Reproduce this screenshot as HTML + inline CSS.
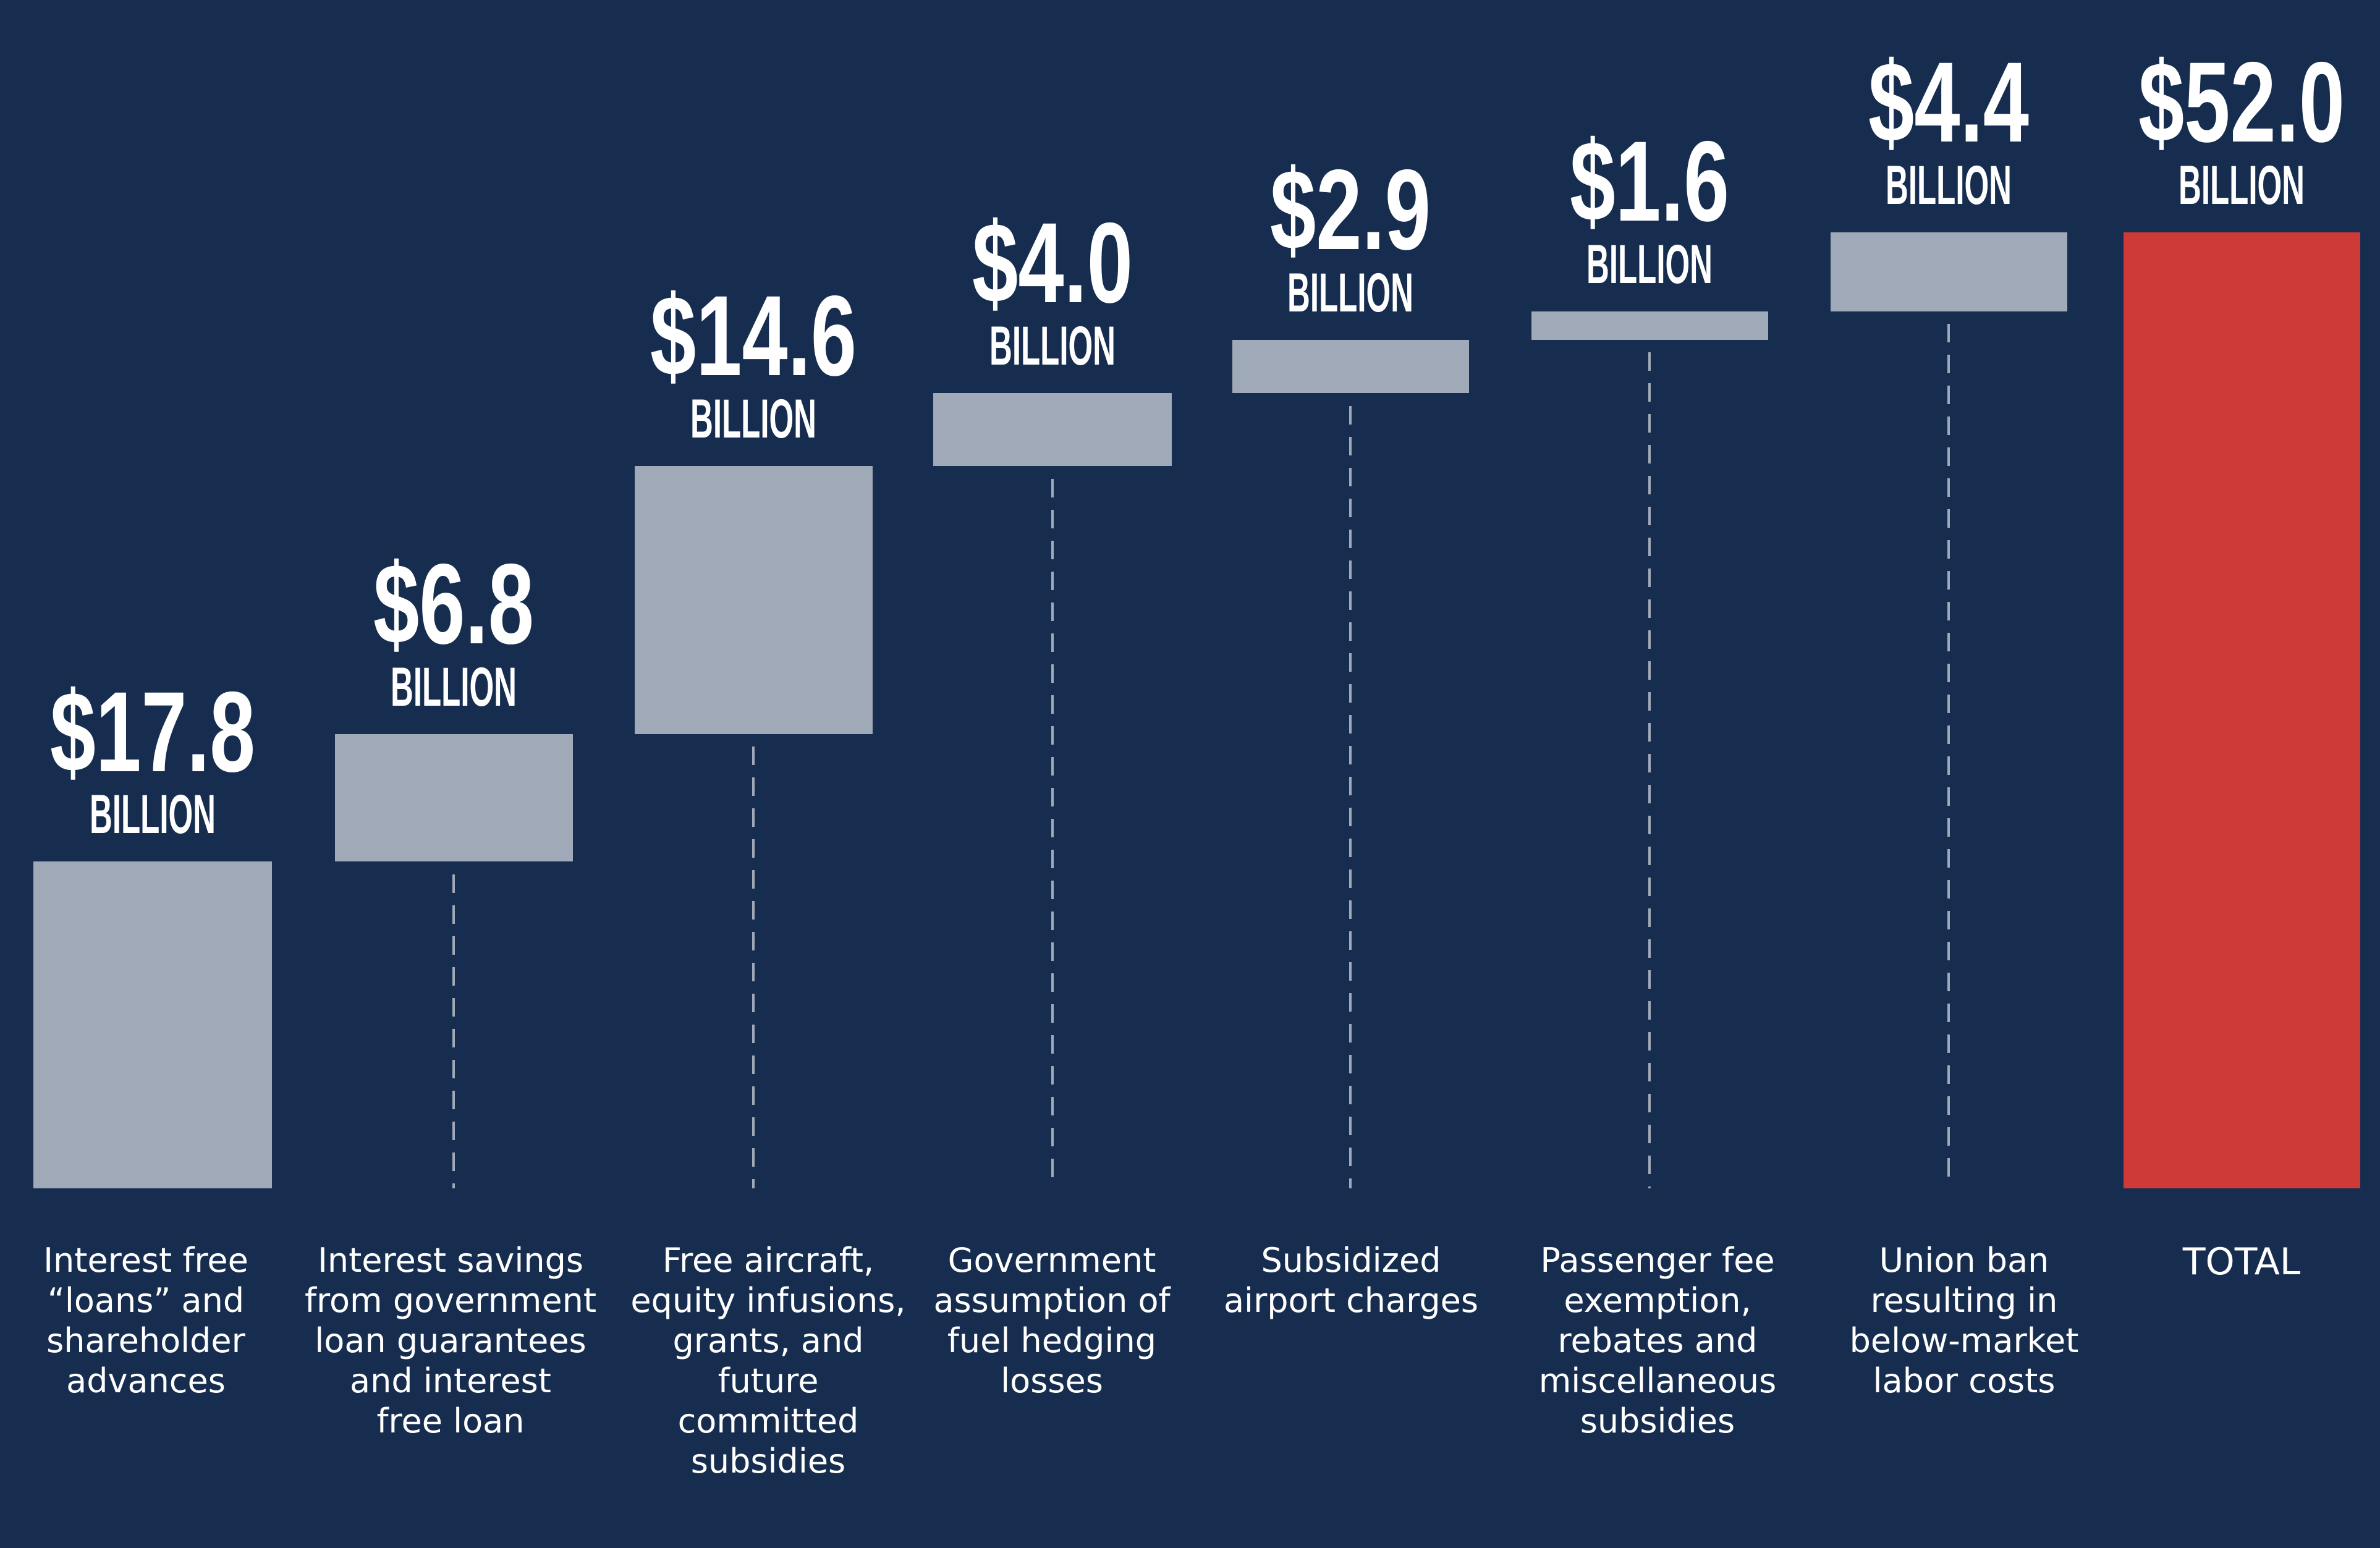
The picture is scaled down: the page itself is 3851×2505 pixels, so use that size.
<!DOCTYPE html>
<html><head><meta charset="utf-8"><style>
html,body{margin:0;padding:0;background:#172d4f;}
svg{display:block}
.v{font-family:"Liberation Sans Narrow","Liberation Sans",sans-serif;font-weight:bold;fill:#fff;text-anchor:middle}
.c{font-family:"DejaVu Sans","Liberation Sans",sans-serif;fill:#fff;font-size:54px;text-anchor:middle}
</style></head><body>
<svg width="3851" height="2505" viewBox="0 0 3851 2505" xmlns="http://www.w3.org/2000/svg">
<rect width="3851" height="2505" fill="#172d4f"/>
<g fill="#a0a9b7">
<rect x="54" y="1394" width="386" height="529"/>
<rect x="542" y="1188" width="385" height="206"/>
<rect x="1027" y="754" width="385" height="434"/>
<rect x="1510" y="636" width="386" height="118"/>
<rect x="1994" y="550" width="383" height="86"/>
<rect x="2478" y="504" width="383" height="46"/>
<rect x="2962" y="376" width="383" height="128"/>
</g>
<rect x="3436" y="376" width="383" height="1547" fill="#cd3a37"/>
<g stroke="#a0a9b7" stroke-width="4" stroke-dasharray="30,20">
<line x1="734" y1="1415" x2="734" y2="1923"/>
<line x1="1219" y1="1208" x2="1219" y2="1923"/>
<line x1="1703" y1="775" x2="1703" y2="1923"/>
<line x1="2185" y1="657" x2="2185" y2="1923"/>
<line x1="2669" y1="570" x2="2669" y2="1923"/>
<line x1="3153" y1="524" x2="3153" y2="1923"/>
</g>
<g class="v">
<text x="247" y="1248" font-size="185" textLength="332" lengthAdjust="spacingAndGlyphs">$17.8</text>
<text x="247" y="1348" font-size="89" textLength="204" lengthAdjust="spacingAndGlyphs">BILLION</text>
<text x="734" y="1041" font-size="185" textLength="260" lengthAdjust="spacingAndGlyphs">$6.8</text>
<text x="734" y="1142" font-size="89" textLength="204" lengthAdjust="spacingAndGlyphs">BILLION</text>
<text x="1219" y="607" font-size="185" textLength="334" lengthAdjust="spacingAndGlyphs">$14.6</text>
<text x="1219" y="708" font-size="89" textLength="204" lengthAdjust="spacingAndGlyphs">BILLION</text>
<text x="1703" y="489" font-size="185" textLength="260" lengthAdjust="spacingAndGlyphs">$4.0</text>
<text x="1703" y="590" font-size="89" textLength="204" lengthAdjust="spacingAndGlyphs">BILLION</text>
<text x="2185" y="403" font-size="185" textLength="260" lengthAdjust="spacingAndGlyphs">$2.9</text>
<text x="2185" y="504" font-size="89" textLength="204" lengthAdjust="spacingAndGlyphs">BILLION</text>
<text x="2669" y="357" font-size="185" textLength="258" lengthAdjust="spacingAndGlyphs">$1.6</text>
<text x="2669" y="458" font-size="89" textLength="204" lengthAdjust="spacingAndGlyphs">BILLION</text>
<text x="3153" y="229" font-size="185" textLength="260" lengthAdjust="spacingAndGlyphs">$4.4</text>
<text x="3153" y="330" font-size="89" textLength="204" lengthAdjust="spacingAndGlyphs">BILLION</text>
<text x="3627" y="229" font-size="185" textLength="334" lengthAdjust="spacingAndGlyphs">$52.0</text>
<text x="3627" y="330" font-size="89" textLength="204" lengthAdjust="spacingAndGlyphs">BILLION</text>
</g>
<g class="c">
<text x="236" y="2058">Interest free</text>
<text x="236" y="2123">“loans” and</text>
<text x="236" y="2188">shareholder</text>
<text x="236" y="2253">advances</text>
<text x="729" y="2058">Interest savings</text>
<text x="729" y="2123">from government</text>
<text x="729" y="2188">loan guarantees</text>
<text x="729" y="2253">and interest</text>
<text x="729" y="2318">free loan</text>
<text x="1243" y="2058">Free aircraft,</text>
<text x="1243" y="2123">equity infusions,</text>
<text x="1243" y="2188">grants, and</text>
<text x="1243" y="2253">future</text>
<text x="1243" y="2318">committed</text>
<text x="1243" y="2383">subsidies</text>
<text x="1702" y="2058">Government</text>
<text x="1702" y="2123">assumption of</text>
<text x="1702" y="2188">fuel hedging</text>
<text x="1702" y="2253">losses</text>
<text x="2186" y="2058">Subsidized</text>
<text x="2186" y="2123">airport charges</text>
<text x="2682" y="2058">Passenger fee</text>
<text x="2682" y="2123">exemption,</text>
<text x="2682" y="2188">rebates and</text>
<text x="2682" y="2253">miscellaneous</text>
<text x="2682" y="2318">subsidies</text>
<text x="3178" y="2058">Union ban</text>
<text x="3178" y="2123">resulting in</text>
<text x="3178" y="2188">below-market</text>
<text x="3178" y="2253">labor costs</text>
<text x="3627" y="2062" font-size="60">TOTAL</text>
</g>
</svg>
</body></html>
